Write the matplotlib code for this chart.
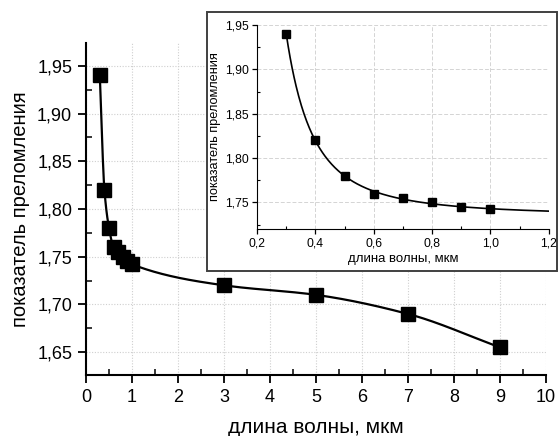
import numpy as np
import matplotlib
matplotlib.use("Agg")
import matplotlib.pyplot as plt
from matplotlib.ticker import MultipleLocator, FuncFormatter
from matplotlib.patches import Rectangle

plt.rcParams['font.family'] = ['Liberation Sans', 'DejaVu Sans']

# wavelength (um) and refractive index
wl = [0.3, 0.4, 0.5, 0.6, 0.7, 0.8, 0.9, 1.0, 3, 5, 7, 9]
n_idx = [1.94, 1.82, 1.78, 1.76, 1.755, 1.75, 1.745, 1.742, 1.72, 1.71, 1.69, 1.655]

# short-wavelength part shown in the inset
wl_vis = wl[:8]
n_vis = n_idx[:8]

xlabel = 'длина волны, мкм'
ylabel = 'показатель преломления'


def pchip(x, y, xs):
    # monotone piecewise cubic through the measured points
    x = np.asarray(x, float)
    y = np.asarray(y, float)
    h = np.diff(x)
    d = np.diff(y) / h
    m = np.zeros_like(y)
    for k in range(1, len(x) - 1):
        if d[k - 1] * d[k] > 0:
            w1 = 2 * h[k] + h[k - 1]
            w2 = h[k] + 2 * h[k - 1]
            m[k] = (w1 + w2) / (w1 / d[k - 1] + w2 / d[k])
    m[0] = d[0]
    m[-1] = d[-1]
    i = np.clip(np.searchsorted(x, xs) - 1, 0, len(x) - 2)
    t = (xs - x[i]) / h[i]
    h00 = 2 * t**3 - 3 * t**2 + 1
    h10 = t**3 - 2 * t**2 + t
    h01 = -2 * t**3 + 3 * t**2
    h11 = t**3 - t**2
    return h00 * y[i] + h10 * h[i] * m[i] + h01 * y[i + 1] + h11 * h[i] * m[i + 1]


def cauchy_fit(x, y):
    # n = a + b/x^2 + c/x^4, least squares
    x = np.asarray(x, float)
    y = np.asarray(y, float)
    M = np.column_stack([np.ones_like(x), x**-2, x**-4])
    coef = np.linalg.lstsq(M, y, rcond=None)[0]
    return lambda xs: coef[0] + coef[1] * xs**-2 + coef[2] * xs**-4


def comma(fmt):
    return FuncFormatter(lambda v, p: (fmt % v).replace('.', ','))


fig = plt.figure(figsize=(5.6, 4.36), dpi=100)

# main plot
ax = fig.add_axes([0.1536, 0.1399, 0.8214, 0.7615])
xs = np.linspace(wl[0], wl[-1], 800)
ax.plot(xs, pchip(wl, n_idx, xs), color='black', lw=1.6, zorder=3)
ax.plot(wl, n_idx, 's', color='black', ms=10, zorder=4)
ax.set_xlim(0, 10)
ax.set_ylim(1.626, 1.974)
ax.xaxis.set_major_locator(MultipleLocator(1))
ax.xaxis.set_minor_locator(MultipleLocator(0.5))
ax.yaxis.set_major_locator(MultipleLocator(0.05))
ax.yaxis.set_minor_locator(MultipleLocator(0.025))
ax.yaxis.set_major_formatter(comma('%.2f'))
ax.tick_params(which='major', direction='out', length=6, width=1.3, labelsize=13, pad=4)
ax.tick_params(which='minor', direction='in', length=4, width=1.1)
for s in ('top', 'right'):
    ax.spines[s].set_visible(False)
for s in ('left', 'bottom'):
    ax.spines[s].set_linewidth(1.5)
ax.grid(True, which='major', ls=(0, (1, 1.5)), color='#cfcfcf', lw=0.8)
ax.set_xlabel(xlabel, fontsize=15, labelpad=9)
ax.set_ylabel(ylabel, fontsize=14.5, labelpad=5)

# white framed box behind the inset
fig.patches.append(Rectangle((207 / 560, 1 - 271 / 436), 350 / 560, 259 / 436,
                             transform=fig.transFigure, facecolor='white',
                             edgecolor='#404040', lw=1.4, zorder=1))

# inset: visible range
ins = fig.add_axes([0.459, 0.4748, 0.521, 0.4679], zorder=2)
ins.patch.set_alpha(0)
fit = cauchy_fit(wl_vis, n_vis)
xf = np.linspace(0.3, 1.2, 400)
ins.plot(xf, fit(xf), color='black', lw=1.2, zorder=3)
ins.plot(wl_vis, n_vis, 's', color='black', ms=6, zorder=4)
ins.set_xlim(0.2, 1.2)
ins.set_ylim(1.72, 1.95)
ins.xaxis.set_major_locator(MultipleLocator(0.2))
ins.xaxis.set_minor_locator(MultipleLocator(0.1))
ins.yaxis.set_major_locator(MultipleLocator(0.05))
ins.yaxis.set_minor_locator(MultipleLocator(0.025))
ins.xaxis.set_major_formatter(comma('%.1f'))
ins.yaxis.set_major_formatter(comma('%.2f'))
ins.tick_params(which='major', direction='out', length=3.5, width=0.9, labelsize=8.7, pad=2.5)
ins.tick_params(which='minor', direction='in', length=2.5, width=0.8)
for s in ('top', 'right'):
    ins.spines[s].set_visible(False)
ins.grid(True, which='major', ls=(0, (4, 2)), color='#d4d4d4', lw=0.7)
ins.set_xlabel(xlabel, fontsize=9.5, labelpad=3)
ins.set_ylabel(ylabel, fontsize=9.2, labelpad=3)

fig.savefig('out.png', dpi=100)
